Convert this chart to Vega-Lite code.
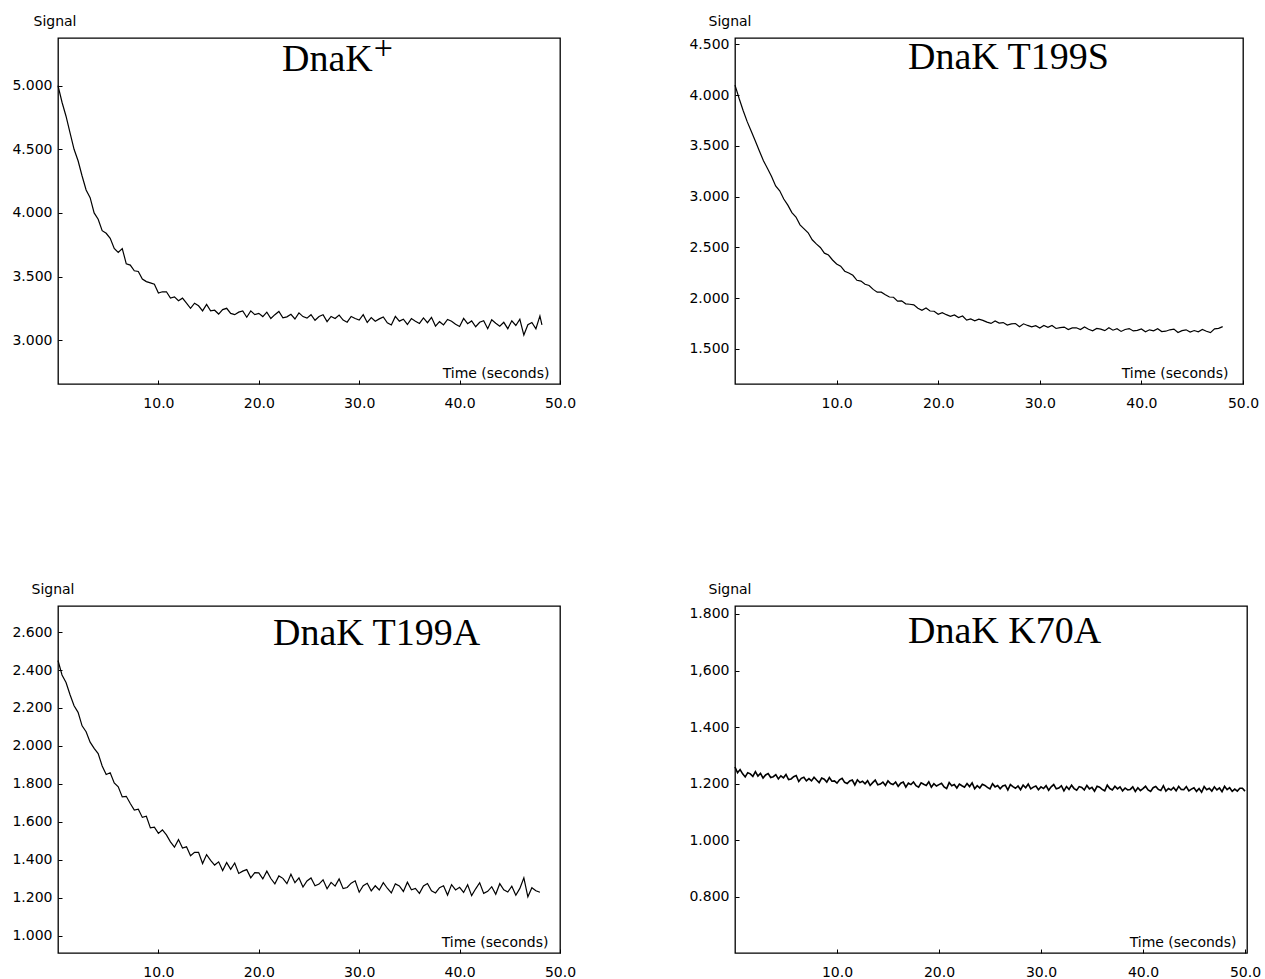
{
"$schema": "https://vega.github.io/schema/vega-lite/v6.json",
"background": "white",
"padding": {"left": 11, "top": 13, "right": 5, "bottom": 5},
"columns": 2,
"spacing": {"row": 222, "column": 175},
"bounds": "flush",
"align": "each",
"config": {
  "view": {"stroke": "black", "strokeWidth": 1.3},
  "axis": {"labelFont": "DejaVu Sans", "labelFontSize": 14, "labelColor": "black", "titleFont": "DejaVu Sans", "titleFontSize": 14, "titleFontWeight": "normal", "titleColor": "black", "domain": false, "grid": false, "tickColor": "black", "tickSize": -4, "tickWidth": 1, "labelFlush": false, "labelOverlap": false},
  "axisX": {"labelPadding": 16},
  "axisY": {"labelPadding": 10},
  "title": {"font": "Liberation Serif", "fontSize": 38, "fontWeight": "normal", "color": "black", "anchor": "start", "frame": "group", "baseline": "alphabetic"},
  "line": {"color": "black", "strokeWidth": 1.2}
},
"datasets": {
"p1": [{"t":0,"v":5.0},{"t":0.4,"v":4.87},{"t":0.8,"v":4.76},{"t":1.2,"v":4.63},{"t":1.6,"v":4.5},{"t":2.0,"v":4.41},{"t":2.4,"v":4.29},{"t":2.8,"v":4.18},{"t":3.2,"v":4.12},{"t":3.6,"v":4.0},{"t":4.0,"v":3.95},{"t":4.4,"v":3.86},{"t":4.8,"v":3.84},{"t":5.2,"v":3.8},{"t":5.6,"v":3.72},{"t":6.0,"v":3.69},{"t":6.4,"v":3.72},{"t":6.8,"v":3.6},{"t":7.2,"v":3.59},{"t":7.6,"v":3.545},{"t":8.0,"v":3.54},{"t":8.4,"v":3.48},{"t":8.8,"v":3.46},{"t":9.2,"v":3.45},{"t":9.6,"v":3.44},{"t":10.0,"v":3.37},{"t":10.4,"v":3.38},{"t":10.8,"v":3.38},{"t":11.2,"v":3.33},{"t":11.6,"v":3.34},{"t":12.0,"v":3.31},{"t":12.4,"v":3.33},{"t":12.8,"v":3.29},{"t":13.2,"v":3.25},{"t":13.6,"v":3.29},{"t":14.0,"v":3.27},{"t":14.4,"v":3.23},{"t":14.8,"v":3.28},{"t":15.2,"v":3.23},{"t":15.6,"v":3.235},{"t":16.0,"v":3.205},{"t":16.4,"v":3.24},{"t":16.8,"v":3.25},{"t":17.2,"v":3.21},{"t":17.6,"v":3.2},{"t":18.0,"v":3.22},{"t":18.4,"v":3.23},{"t":18.8,"v":3.18},{"t":19.2,"v":3.23},{"t":19.6,"v":3.2},{"t":20.0,"v":3.21},{"t":20.4,"v":3.185},{"t":20.8,"v":3.22},{"t":21.2,"v":3.17},{"t":21.6,"v":3.2},{"t":22.0,"v":3.225},{"t":22.4,"v":3.175},{"t":22.8,"v":3.183},{"t":23.2,"v":3.203},{"t":23.6,"v":3.166},{"t":24.0,"v":3.214},{"t":24.4,"v":3.185},{"t":24.8,"v":3.173},{"t":25.2,"v":3.2},{"t":25.6,"v":3.156},{"t":26.0,"v":3.186},{"t":26.4,"v":3.199},{"t":26.8,"v":3.145},{"t":27.2,"v":3.186},{"t":27.6,"v":3.17},{"t":28.0,"v":3.197},{"t":28.4,"v":3.157},{"t":28.8,"v":3.141},{"t":29.2,"v":3.186},{"t":29.6,"v":3.17},{"t":30.0,"v":3.158},{"t":30.4,"v":3.2},{"t":30.8,"v":3.139},{"t":31.2,"v":3.177},{"t":31.6,"v":3.148},{"t":32.0,"v":3.167},{"t":32.4,"v":3.182},{"t":32.8,"v":3.136},{"t":33.2,"v":3.119},{"t":33.6,"v":3.186},{"t":34.0,"v":3.149},{"t":34.4,"v":3.164},{"t":34.8,"v":3.123},{"t":35.2,"v":3.169},{"t":35.6,"v":3.148},{"t":36.0,"v":3.131},{"t":36.4,"v":3.174},{"t":36.8,"v":3.137},{"t":37.2,"v":3.179},{"t":37.6,"v":3.11},{"t":38.0,"v":3.145},{"t":38.4,"v":3.12},{"t":38.8,"v":3.163},{"t":39.2,"v":3.149},{"t":39.6,"v":3.124},{"t":40.0,"v":3.107},{"t":40.4,"v":3.17},{"t":40.8,"v":3.129},{"t":41.2,"v":3.151},{"t":41.6,"v":3.105},{"t":42.0,"v":3.14},{"t":42.4,"v":3.153},{"t":42.8,"v":3.09},{"t":43.2,"v":3.16},{"t":43.6,"v":3.133},{"t":44.0,"v":3.109},{"t":44.4,"v":3.14},{"t":44.8,"v":3.09},{"t":45.2,"v":3.152},{"t":45.6,"v":3.115},{"t":46.0,"v":3.164},{"t":46.4,"v":3.04},{"t":46.8,"v":3.121},{"t":47.2,"v":3.139},{"t":47.6,"v":3.089},{"t":48.0,"v":3.19},{"t":48.2,"v":3.12}],
"p2": [{"t":0,"v":4.1},{"t":0.4,"v":3.97},{"t":0.8,"v":3.85},{"t":1.2,"v":3.74},{"t":1.6,"v":3.645},{"t":2.0,"v":3.55},{"t":2.4,"v":3.45},{"t":2.8,"v":3.354},{"t":3.2,"v":3.278},{"t":3.6,"v":3.2},{"t":4.0,"v":3.106},{"t":4.4,"v":3.058},{"t":4.8,"v":2.977},{"t":5.2,"v":2.917},{"t":5.6,"v":2.844},{"t":6.0,"v":2.8},{"t":6.4,"v":2.723},{"t":6.8,"v":2.684},{"t":7.2,"v":2.645},{"t":7.6,"v":2.576},{"t":8.0,"v":2.535},{"t":8.4,"v":2.5},{"t":8.8,"v":2.444},{"t":9.2,"v":2.426},{"t":9.6,"v":2.377},{"t":10.0,"v":2.337},{"t":10.4,"v":2.316},{"t":10.8,"v":2.266},{"t":11.2,"v":2.249},{"t":11.6,"v":2.226},{"t":12.0,"v":2.177},{"t":12.4,"v":2.169},{"t":12.8,"v":2.138},{"t":13.2,"v":2.126},{"t":13.6,"v":2.087},{"t":14.0,"v":2.06},{"t":14.4,"v":2.06},{"t":14.8,"v":2.035},{"t":15.2,"v":2.012},{"t":15.6,"v":2.01},{"t":16.0,"v":1.972},{"t":16.4,"v":1.974},{"t":16.8,"v":1.945},{"t":17.2,"v":1.941},{"t":17.6,"v":1.935},{"t":18.0,"v":1.901},{"t":18.4,"v":1.881},{"t":18.8,"v":1.903},{"t":19.2,"v":1.874},{"t":19.6,"v":1.872},{"t":20.0,"v":1.842},{"t":20.4,"v":1.857},{"t":20.8,"v":1.838},{"t":21.2,"v":1.822},{"t":21.6,"v":1.836},{"t":22.0,"v":1.81},{"t":22.4,"v":1.825},{"t":22.8,"v":1.784},{"t":23.2,"v":1.796},{"t":23.6,"v":1.778},{"t":24.0,"v":1.794},{"t":24.4,"v":1.782},{"t":24.8,"v":1.765},{"t":25.2,"v":1.752},{"t":25.6,"v":1.777},{"t":26.0,"v":1.755},{"t":26.4,"v":1.76},{"t":26.8,"v":1.736},{"t":27.2,"v":1.748},{"t":27.6,"v":1.751},{"t":28.0,"v":1.719},{"t":28.4,"v":1.748},{"t":28.8,"v":1.732},{"t":29.2,"v":1.719},{"t":29.6,"v":1.73},{"t":30.0,"v":1.706},{"t":30.4,"v":1.731},{"t":30.8,"v":1.713},{"t":31.2,"v":1.732},{"t":31.6,"v":1.702},{"t":32.0,"v":1.71},{"t":32.4,"v":1.716},{"t":32.8,"v":1.692},{"t":33.2,"v":1.708},{"t":33.6,"v":1.709},{"t":34.0,"v":1.691},{"t":34.4,"v":1.716},{"t":34.8,"v":1.694},{"t":35.2,"v":1.679},{"t":35.6,"v":1.703},{"t":36.0,"v":1.696},{"t":36.4,"v":1.681},{"t":36.8,"v":1.71},{"t":37.2,"v":1.685},{"t":37.6,"v":1.7},{"t":38.0,"v":1.673},{"t":38.4,"v":1.692},{"t":38.8,"v":1.701},{"t":39.2,"v":1.678},{"t":39.6,"v":1.683},{"t":40.0,"v":1.697},{"t":40.4,"v":1.67},{"t":40.8,"v":1.689},{"t":41.2,"v":1.679},{"t":41.6,"v":1.7},{"t":42.0,"v":1.672},{"t":42.4,"v":1.675},{"t":42.8,"v":1.689},{"t":43.2,"v":1.696},{"t":43.6,"v":1.662},{"t":44.0,"v":1.681},{"t":44.4,"v":1.689},{"t":44.8,"v":1.667},{"t":45.2,"v":1.682},{"t":45.6,"v":1.67},{"t":46.0,"v":1.692},{"t":46.4,"v":1.675},{"t":46.8,"v":1.661},{"t":47.2,"v":1.699},{"t":47.6,"v":1.703},{"t":48.0,"v":1.72}],
"p3": [{"t":0,"v":2.45},{"t":0.4,"v":2.374},{"t":0.8,"v":2.334},{"t":1.2,"v":2.27},{"t":1.6,"v":2.212},{"t":2.0,"v":2.177},{"t":2.4,"v":2.106},{"t":2.8,"v":2.075},{"t":3.2,"v":2.02},{"t":3.6,"v":1.987},{"t":4.0,"v":1.96},{"t":4.4,"v":1.895},{"t":4.8,"v":1.85},{"t":5.2,"v":1.859},{"t":5.6,"v":1.805},{"t":6.0,"v":1.785},{"t":6.4,"v":1.732},{"t":6.8,"v":1.735},{"t":7.2,"v":1.697},{"t":7.6,"v":1.663},{"t":8.0,"v":1.667},{"t":8.4,"v":1.624},{"t":8.8,"v":1.63},{"t":9.2,"v":1.569},{"t":9.6,"v":1.573},{"t":10.0,"v":1.54},{"t":10.4,"v":1.558},{"t":10.8,"v":1.532},{"t":11.2,"v":1.495},{"t":11.6,"v":1.467},{"t":12.0,"v":1.507},{"t":12.4,"v":1.463},{"t":12.8,"v":1.469},{"t":13.2,"v":1.422},{"t":13.6,"v":1.44},{"t":14.0,"v":1.44},{"t":14.4,"v":1.381},{"t":14.8,"v":1.428},{"t":15.2,"v":1.398},{"t":15.6,"v":1.373},{"t":16.0,"v":1.39},{"t":16.4,"v":1.344},{"t":16.8,"v":1.386},{"t":17.2,"v":1.351},{"t":17.6,"v":1.384},{"t":18.0,"v":1.329},{"t":18.4,"v":1.341},{"t":18.8,"v":1.349},{"t":19.2,"v":1.306},{"t":19.6,"v":1.333},{"t":20.0,"v":1.332},{"t":20.4,"v":1.3},{"t":20.8,"v":1.341},{"t":21.2,"v":1.302},{"t":21.6,"v":1.274},{"t":22.0,"v":1.316},{"t":22.4,"v":1.303},{"t":22.8,"v":1.275},{"t":23.2,"v":1.325},{"t":23.6,"v":1.28},{"t":24.0,"v":1.305},{"t":24.4,"v":1.257},{"t":24.8,"v":1.289},{"t":25.2,"v":1.305},{"t":25.6,"v":1.264},{"t":26.0,"v":1.273},{"t":26.4,"v":1.295},{"t":26.8,"v":1.248},{"t":27.2,"v":1.282},{"t":27.6,"v":1.262},{"t":28.0,"v":1.3},{"t":28.4,"v":1.249},{"t":28.8,"v":1.255},{"t":29.2,"v":1.278},{"t":29.6,"v":1.29},{"t":30.0,"v":1.23},{"t":30.4,"v":1.264},{"t":30.8,"v":1.277},{"t":31.2,"v":1.237},{"t":31.6,"v":1.264},{"t":32.0,"v":1.242},{"t":32.4,"v":1.28},{"t":32.8,"v":1.251},{"t":33.2,"v":1.226},{"t":33.6,"v":1.274},{"t":34.0,"v":1.263},{"t":34.4,"v":1.234},{"t":34.8,"v":1.283},{"t":35.2,"v":1.243},{"t":35.6,"v":1.25},{"t":36.0,"v":1.224},{"t":36.4,"v":1.263},{"t":36.8,"v":1.276},{"t":37.2,"v":1.237},{"t":37.6,"v":1.226},{"t":38.0,"v":1.254},{"t":38.4,"v":1.264},{"t":38.8,"v":1.215},{"t":39.2,"v":1.27},{"t":39.6,"v":1.242},{"t":40.0,"v":1.256},{"t":40.4,"v":1.229},{"t":40.8,"v":1.269},{"t":41.2,"v":1.212},{"t":41.6,"v":1.248},{"t":42.0,"v":1.28},{"t":42.4,"v":1.224},{"t":42.8,"v":1.235},{"t":43.2,"v":1.259},{"t":43.6,"v":1.219},{"t":44.0,"v":1.275},{"t":44.4,"v":1.243},{"t":44.8,"v":1.231},{"t":45.2,"v":1.262},{"t":45.6,"v":1.214},{"t":46.0,"v":1.25},{"t":46.4,"v":1.306},{"t":46.8,"v":1.206},{"t":47.2,"v":1.254},{"t":47.6,"v":1.238},{"t":48.0,"v":1.23}],
"p4": [{"t":0,"v":1.259},{"t":0.25,"v":1.239},{"t":0.5,"v":1.25},{"t":0.75,"v":1.235},{"t":1,"v":1.224},{"t":1.25,"v":1.239},{"t":1.5,"v":1.235},{"t":1.75,"v":1.226},{"t":2,"v":1.243},{"t":2.25,"v":1.227},{"t":2.5,"v":1.237},{"t":2.75,"v":1.22},{"t":3,"v":1.231},{"t":3.25,"v":1.236},{"t":3.5,"v":1.222},{"t":3.75,"v":1.225},{"t":4,"v":1.232},{"t":4.25,"v":1.217},{"t":4.5,"v":1.228},{"t":4.75,"v":1.221},{"t":5,"v":1.233},{"t":5.25,"v":1.215},{"t":5.5,"v":1.217},{"t":5.75,"v":1.225},{"t":6,"v":1.229},{"t":6.25,"v":1.208},{"t":6.5,"v":1.219},{"t":6.75,"v":1.223},{"t":7,"v":1.21},{"t":7.25,"v":1.218},{"t":7.5,"v":1.21},{"t":7.75,"v":1.223},{"t":8,"v":1.213},{"t":8.25,"v":1.204},{"t":8.5,"v":1.22},{"t":8.75,"v":1.216},{"t":9,"v":1.206},{"t":9.25,"v":1.222},{"t":9.5,"v":1.209},{"t":9.75,"v":1.21},{"t":10,"v":1.202},{"t":10.25,"v":1.214},{"t":10.5,"v":1.219},{"t":10.75,"v":1.205},{"t":11,"v":1.201},{"t":11.25,"v":1.21},{"t":11.5,"v":1.213},{"t":11.75,"v":1.196},{"t":12,"v":1.214},{"t":12.25,"v":1.204},{"t":12.5,"v":1.209},{"t":12.75,"v":1.2},{"t":13,"v":1.211},{"t":13.25,"v":1.194},{"t":13.5,"v":1.204},{"t":13.75,"v":1.213},{"t":14,"v":1.196},{"t":14.25,"v":1.199},{"t":14.5,"v":1.206},{"t":14.75,"v":1.194},{"t":15,"v":1.21},{"t":15.25,"v":1.201},{"t":15.5,"v":1.197},{"t":15.75,"v":1.206},{"t":16,"v":1.191},{"t":16.25,"v":1.202},{"t":16.5,"v":1.206},{"t":16.75,"v":1.188},{"t":17,"v":1.202},{"t":17.25,"v":1.197},{"t":17.5,"v":1.206},{"t":17.75,"v":1.193},{"t":18,"v":1.188},{"t":18.25,"v":1.203},{"t":18.5,"v":1.198},{"t":18.75,"v":1.194},{"t":19,"v":1.207},{"t":19.25,"v":1.188},{"t":19.5,"v":1.2},{"t":19.75,"v":1.192},{"t":20,"v":1.197},{"t":20.25,"v":1.202},{"t":20.5,"v":1.189},{"t":20.75,"v":1.183},{"t":21,"v":1.204},{"t":21.25,"v":1.193},{"t":21.5,"v":1.197},{"t":21.75,"v":1.185},{"t":22,"v":1.199},{"t":22.25,"v":1.193},{"t":22.5,"v":1.188},{"t":22.75,"v":1.201},{"t":23,"v":1.19},{"t":23.25,"v":1.203},{"t":23.5,"v":1.182},{"t":23.75,"v":1.193},{"t":24,"v":1.185},{"t":24.25,"v":1.198},{"t":24.5,"v":1.194},{"t":24.75,"v":1.187},{"t":25,"v":1.182},{"t":25.25,"v":1.2},{"t":25.5,"v":1.189},{"t":25.75,"v":1.194},{"t":26,"v":1.182},{"t":26.25,"v":1.192},{"t":26.5,"v":1.195},{"t":26.75,"v":1.178},{"t":27,"v":1.197},{"t":27.25,"v":1.19},{"t":27.5,"v":1.184},{"t":27.75,"v":1.192},{"t":28,"v":1.179},{"t":28.25,"v":1.195},{"t":28.5,"v":1.186},{"t":28.75,"v":1.199},{"t":29,"v":1.182},{"t":29.25,"v":1.188},{"t":29.5,"v":1.192},{"t":29.75,"v":1.179},{"t":30,"v":1.189},{"t":30.25,"v":1.183},{"t":30.5,"v":1.193},{"t":30.75,"v":1.177},{"t":31,"v":1.189},{"t":31.25,"v":1.197},{"t":31.5,"v":1.182},{"t":31.75,"v":1.185},{"t":32,"v":1.193},{"t":32.25,"v":1.175},{"t":32.5,"v":1.19},{"t":32.75,"v":1.18},{"t":33,"v":1.195},{"t":33.25,"v":1.183},{"t":33.5,"v":1.177},{"t":33.75,"v":1.19},{"t":34,"v":1.187},{"t":34.25,"v":1.178},{"t":34.5,"v":1.194},{"t":34.75,"v":1.182},{"t":35,"v":1.187},{"t":35.25,"v":1.174},{"t":35.5,"v":1.191},{"t":35.75,"v":1.188},{"t":36,"v":1.18},{"t":36.25,"v":1.175},{"t":36.5,"v":1.195},{"t":36.75,"v":1.183},{"t":37,"v":1.178},{"t":37.25,"v":1.191},{"t":37.5,"v":1.182},{"t":37.75,"v":1.189},{"t":38,"v":1.175},{"t":38.25,"v":1.185},{"t":38.5,"v":1.178},{"t":38.75,"v":1.18},{"t":39,"v":1.189},{"t":39.25,"v":1.173},{"t":39.5,"v":1.186},{"t":39.75,"v":1.176},{"t":40,"v":1.183},{"t":40.25,"v":1.191},{"t":40.5,"v":1.178},{"t":40.75,"v":1.173},{"t":41,"v":1.186},{"t":41.25,"v":1.19},{"t":41.5,"v":1.18},{"t":41.75,"v":1.176},{"t":42,"v":1.193},{"t":42.25,"v":1.174},{"t":42.5,"v":1.183},{"t":42.75,"v":1.178},{"t":43,"v":1.187},{"t":43.25,"v":1.175},{"t":43.5,"v":1.191},{"t":43.75,"v":1.18},{"t":44,"v":1.179},{"t":44.25,"v":1.19},{"t":44.5,"v":1.175},{"t":44.75,"v":1.181},{"t":45,"v":1.186},{"t":45.25,"v":1.173},{"t":45.5,"v":1.183},{"t":45.75,"v":1.17},{"t":46,"v":1.19},{"t":46.25,"v":1.179},{"t":46.5,"v":1.184},{"t":46.75,"v":1.174},{"t":47,"v":1.189},{"t":47.25,"v":1.178},{"t":47.5,"v":1.185},{"t":47.75,"v":1.172},{"t":48,"v":1.191},{"t":48.25,"v":1.179},{"t":48.5,"v":1.186},{"t":48.75,"v":1.173},{"t":49,"v":1.181},{"t":49.25,"v":1.174},{"t":49.5,"v":1.184},{"t":49.75,"v":1.184},{"t":50,"v":1.174}]
},
"concat": [
{
  "width": 502, "height": 346,
  "title": {"text": "DnaK", "dx": 224, "offset": -65},
  "layer": [
    {
      "data": {"name": "p1"},
      "mark": {"type": "line"},
      "encoding": {
        "x": {"field": "t", "type": "quantitative", "scale": {"domain": [0, 50], "nice": false, "zero": false},
          "axis": {"values": [10, 20, 30, 40, 50], "format": ".1f", "title": "Time (seconds)", "titleX": 491, "titleY": -7, "titleAlign": "right", "titleBaseline": "alphabetic"}},
        "y": {"field": "v", "type": "quantitative", "scale": {"domain": [2.655, 5.375], "nice": false, "zero": false},
          "axis": {"values": [3, 3.5, 4, 4.5, 5], "format": ".3f", "title": "Signal", "titleAngle": 0, "titleX": -25, "titleY": -13, "titleAlign": "left", "titleBaseline": "alphabetic"}}
      }
    },
    {
      "data": {"values": [{"s": "+"}]},
      "mark": {"type": "text", "font": "Liberation Serif", "fontSize": 34, "align": "center", "baseline": "middle", "color": "black"},
      "encoding": {
        "x": {"datum": 32.4, "type": "quantitative"},
        "y": {"datum": 5.285, "type": "quantitative"},
        "text": {"field": "s"}
      }
    }
  ]
},
{
  "width": 508, "height": 346,
  "data": {"name": "p2"},
  "title": {"text": "DnaK T199S", "dx": 173, "offset": -63},
  "mark": {"type": "line"},
  "encoding": {
    "x": {"field": "t", "type": "quantitative", "scale": {"domain": [0, 50], "nice": false, "zero": false},
      "axis": {"values": [10, 20, 30, 40, 50], "format": ".1f", "title": "Time (seconds)", "titleX": 493, "titleY": -7, "titleAlign": "right", "titleBaseline": "alphabetic"}},
    "y": {"field": "v", "type": "quantitative", "scale": {"domain": [1.155, 4.564], "nice": false, "zero": false},
      "axis": {"values": [1.5, 2, 2.5, 3, 3.5, 4, 4.5], "format": ".3f", "title": "Signal", "titleAngle": 0, "titleX": -27, "titleY": -13, "titleAlign": "left", "titleBaseline": "alphabetic"}}
  }
},
{
  "width": 502, "height": 347,
  "data": {"name": "p3"},
  "title": {"text": "DnaK T199A", "dx": 215, "offset": -71},
  "mark": {"type": "line"},
  "encoding": {
    "x": {"field": "t", "type": "quantitative", "scale": {"domain": [0, 50], "nice": false, "zero": false},
      "axis": {"values": [10, 20, 30, 40, 50], "format": ".1f", "title": "Time (seconds)", "titleX": 490, "titleY": -7, "titleAlign": "right", "titleBaseline": "alphabetic"}},
    "y": {"field": "v", "type": "quantitative", "scale": {"domain": [0.91, 2.737], "nice": false, "zero": false},
      "axis": {"values": [1.0, 1.2, 1.4, 1.6, 1.8, 2.0, 2.2, 2.4, 2.6], "format": ".3f", "title": "Signal", "titleAngle": 0, "titleX": -27, "titleY": -13, "titleAlign": "left", "titleBaseline": "alphabetic"}}
  }
},
{
  "width": 512, "height": 347,
  "data": {"name": "p4"},
  "title": {"text": "DnaK K70A", "dx": 173, "offset": -69},
  "mark": {"type": "line", "strokeWidth": 1.6},
  "encoding": {
    "x": {"field": "t", "type": "quantitative", "scale": {"domain": [0, 50.2], "nice": false, "zero": false},
      "axis": {"values": [10, 20, 30, 40, 50], "format": ".1f", "title": "Time (seconds)", "titleX": 501, "titleY": -7, "titleAlign": "right", "titleBaseline": "alphabetic"}},
    "y": {"field": "v", "type": "quantitative", "scale": {"domain": [0.602, 1.828], "nice": false, "zero": false},
      "axis": {"values": [0.8, 1.0, 1.2, 1.4, 1.6, 1.8], "format": ".3f", "labelExpr": "datum.value == 1.6 ? '1,600' : datum.label", "title": "Signal", "titleAngle": 0, "titleX": -27, "titleY": -13, "titleAlign": "left", "titleBaseline": "alphabetic"}}
  }
}
]
}
